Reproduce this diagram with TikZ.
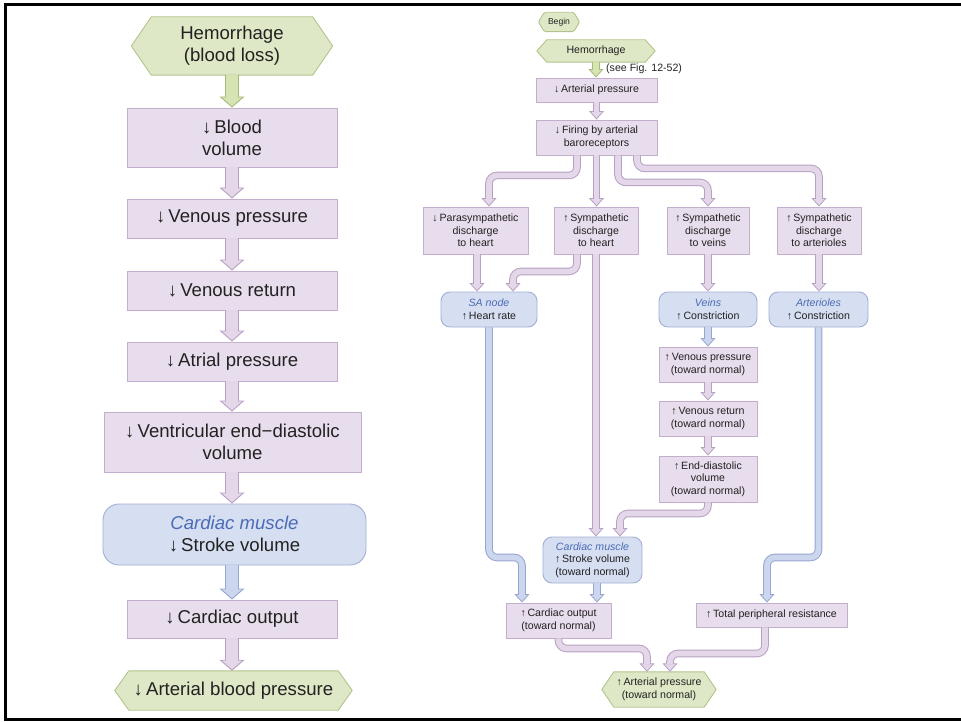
\documentclass[tikz,border=0pt]{standalone}
\usepackage{fontspec}
\setmainfont{Liberation Sans}
\usetikzlibrary{arrows.meta,calc,backgrounds}

% palette
\definecolor{pfill}{HTML}{E8DDEC}
\definecolor{pedge}{HTML}{C3AECB}
\definecolor{pcore}{HTML}{E4D7E9}
\definecolor{pline}{HTML}{B7A1C1}
\definecolor{bfill}{HTML}{D6DEF1}
\definecolor{bedge}{HTML}{A3B0D4}
\definecolor{bcore}{HTML}{CCD6EF}
\definecolor{bline}{HTML}{97A6CF}
\definecolor{gfill}{HTML}{DEE8C6}
\definecolor{gedge}{HTML}{B2C48B}
\definecolor{gcore}{HTML}{D6E3B3}
\definecolor{gline}{HTML}{A6BB78}
\definecolor{ital}{HTML}{4A6BB5}
\definecolor{ink}{HTML}{222222}

\tikzset{
  big/.style={font=\fontsize{18.6}{22}\selectfont},
  small/.style={font=\fontsize{10.6}{12.6}\selectfont},
  tiny/.style={font=\fontsize{8.6}{10}\selectfont},
  pbox/.style={draw=pedge, fill=pfill, line width=0.9pt, inner sep=0pt, align=center, text=ink},
  bbox/.style={draw=bedge, fill=bfill, line width=0.9pt, inner sep=0pt, align=center, text=ink, rounded corners=9pt},
  hexnode/.style={inner sep=0pt, align=center, text=ink},
  hexshape/.style={draw=gedge, fill=gfill, line width=0.9pt, line join=round},
  sz/.style 2 args={minimum width=#1, minimum height=#2},
  % thin flow pipes: outer edge with tip, then inner core
  pipeA/.style={draw=#1line, line width=7.6pt, rounded corners=8pt,
    -{Triangle[width=15pt,length=8.5pt,line width=0.8pt,fill=#1core]}},
  pipeB/.style={draw=#1core, line width=5.6pt, rounded corners=8pt, shorten >=7.6pt},
  % wide block arrows
  bigA/.style={draw=#1line, line width=14pt,
    -{Triangle[width=25pt,length=11pt,line width=0.9pt,fill=#1core]}},
  bigB/.style={draw=#1core, line width=12.2pt, shorten >=10pt},
}

\newcommand\flowpipe[2][p]{\draw[pipeA=#1] #2;\draw[pipeB=#1] #2;}
\newcommand\flowbig[2][p]{\draw[bigA=#1] #2;\draw[bigB=#1] #2;}
\newcommand\hexagonbg[3][0pt]{\path[hexshape,rounded corners=#1] (#2.north west) -- (#2.north east) -- ($(#2.east)+(#3,0)$) -- (#2.south east) -- (#2.south west) -- ($(#2.west)+(-#3,0)$) -- cycle;}
\newcommand\cm{{\color{ital}\itshape Cardiac muscle}}

\begin{document}
\begin{tikzpicture}[x=1pt,y=-1pt]
\useasboundingbox (0,0) rectangle (961,722);

% outer frame
\draw[line width=3pt] (961,4.5) -- (5.5,4.5) -- (5.5,719.5) -- (961,719.5);

% ---------- left column: the effects of blood loss ----------
\node[hexnode,big,sz={161pt}{58pt}] (h1) at (232,46) {Hemorrhage\\(blood loss)};
\node[pbox,big,sz={210pt}{59pt}] (bv) at (232,137.5) {↓\,Blood\\volume};
\node[pbox,big,sz={210pt}{39pt}] (vp) at (232,218.5) {↓\,Venous pressure};
\node[pbox,big,sz={210pt}{39pt}] (vr) at (232,290.5) {↓\,Venous return};
\node[pbox,big,sz={210pt}{39pt}] (atp) at (232,361.5) {↓\,Atrial pressure};
\node[pbox,big,sz={257pt}{60pt}] (ved) at (232.5,442) {↓\,Ventricular end−diastolic\\volume};
\node[bbox,big,sz={263pt}{61pt},rounded corners=16pt] (cm1) at (234.5,534.5) {\cm\\↓\,Stroke volume};
\node[pbox,big,sz={210pt}{38pt}] (co1) at (232,619) {↓\,Cardiac output};
\node[hexnode,big,sz={209pt}{39pt}] (abp) at (233.5,690.5) {↓\,Arterial blood pressure};

\flowbig[g]{(h1.south) -- (bv.north)}
\flowbig{(bv.south) -- (vp.north)}
\flowbig{(vp.south) -- (vr.north)}
\flowbig{(vr.south) -- (atp.north)}
\flowbig{(atp.south) -- (atp.south |- ved.north)}
\flowbig{(atp.south |- ved.south) -- (atp.south |- cm1.north)}
\flowbig[b]{(atp.south |- cm1.south) -- (co1.north)}
\flowbig{(co1.south) -- (co1.south |- abp.north)}

% ---------- right column: the baroreceptor reflex ----------
\node[hexnode,tiny,sz={29pt}{19pt}] (beg) at (559,22) {Begin};
\node[hexnode,small,sz={98pt}{22pt}] (h2) at (596,51) {Hemorrhage};
\node[small,anchor=west,inner sep=0pt,text=ink] (see) at (606,69) {(see Fig. 12-52)};
\node[pbox,small,sz={121pt}{24pt}] (ap2) at (596.5,90) {↓\,Arterial pressure};
\node[pbox,small,sz={121pt}{35pt}] (fir) at (596.5,137.5) {↓\,Firing by arterial\\baroreceptors};

\node[pbox,small,sz={105pt}{47pt}] (ps) at (475.5,230.5) {↓\,Parasympathetic\\discharge\\to heart};
\node[pbox,small,sz={84pt}{47pt}] (sh) at (596,230.5) {↑\,Sympathetic\\discharge\\to heart};
\node[pbox,small,sz={82pt}{47pt}] (sv) at (708,230.5) {↑\,Sympathetic\\discharge\\to veins};
\node[pbox,small,sz={84pt}{47pt}] (sa) at (819,230.5) {↑\,Sympathetic\\discharge\\to arterioles};

\node[bbox,small,sz={96pt}{35pt}] (san) at (489,309.5) {{\color{ital}\itshape SA node}\\↑\,Heart rate};
\node[bbox,small,sz={98pt}{35pt}] (vei) at (708,309.5) {{\color{ital}\itshape Veins}\\↑\,Constriction};
\node[bbox,small,sz={99pt}{35pt}] (art) at (818.5,309.5) {{\color{ital}\itshape Arterioles}\\↑\,Constriction};

\node[pbox,small,sz={98pt}{35pt}] (vpr) at (708,364.5) {↑\,Venous pressure\\(toward normal)};
\node[pbox,small,sz={98pt}{35pt}] (vrt) at (708,418.5) {↑\,Venous return\\(toward normal)};
\node[pbox,small,sz={98pt}{46pt}] (edv) at (708,479) {↑\,End-diastolic\\volume\\(toward normal)};

\node[bbox,small,sz={99pt}{46pt}] (cm2) at (592.5,560) {\cm\\↑\,Stroke volume\\(toward normal)};
\node[pbox,small,sz={105pt}{35pt}] (co2) at (558.5,620.5) {↑\,Cardiac output\\(toward normal)};
\node[pbox,small,sz={151pt}{24pt}] (tpr) at (771.5,615) {↑\,Total peripheral resistance};
\node[hexnode,small,sz={90pt}{35pt}] (apn) at (659,689.5) {↑\,Arterial pressure\\(toward normal)};

\flowpipe[g]{(h2.south) -- (h2.south |- ap2.north)}
\flowpipe{(ap2.south) -- (fir.north)}
\flowpipe{($(fir.south)+(-19.5,0)$) -- ++(0,20) -| ($(ps.north)+(13.5,0)$)}
\flowpipe{(fir.south) -- (fir.south |- sh.north)}
\flowpipe{($(fir.south)+(21.5,0)$) -- ++(0,27) -| (sv.north)}
\flowpipe{($(fir.south)+(40.5,0)$) -- ++(0,13) -| (sa.north)}
\flowpipe{($(ps.south)+(1.5,0)$) -- ($(san.north)+(-12,0)$)}
\flowpipe{($(sh.south)+(-19,0)$) -- ++(0,17) -| ($(san.north)+(24,0)$)}
\flowpipe{(sh.south) -- (sh.south |- cm2.north)}
\flowpipe{(sv.south) -- (vei.north)}
\flowpipe{(sa.south) -- (sa.south |- art.north)}
\flowpipe[b]{(vei.south) -- (vpr.north)}
\flowpipe{(vpr.south) -- (vrt.north)}
\flowpipe{(vrt.south) -- (edv.north)}
\flowpipe{(edv.south) -- ++(0,11) -| ($(cm2.north)+(27.5,0)$)}
\flowpipe[b]{(san.south) -- ++(0,230) -| ($(co2.north)+(-36.5,0)$)}
\flowpipe[b]{($(cm2.south)+(4.5,0)$) -- ($(co2.north)+(38.5,0)$)}
\flowpipe[b]{(art.south) -- ++(0,230) -| ($(tpr.north)+(-4.5,0)$)}
\flowpipe{(co2.south) -- ++(0,10) -| ($(apn.north)+(-12,0)$)}
\flowpipe{($(tpr.south)+(-6.5,0)$) -- ++(0,26) -| ($(apn.north)+(11,0)$)}

% green start/end shapes, behind their labels
\begin{scope}[on background layer]
\hexagonbg{h1}{20}
\hexagonbg{abp}{14}
\hexagonbg[1.5pt]{beg}{6}
\hexagonbg{h2}{10}
\hexagonbg{apn}{12}
\end{scope}
\end{tikzpicture}
\end{document}
